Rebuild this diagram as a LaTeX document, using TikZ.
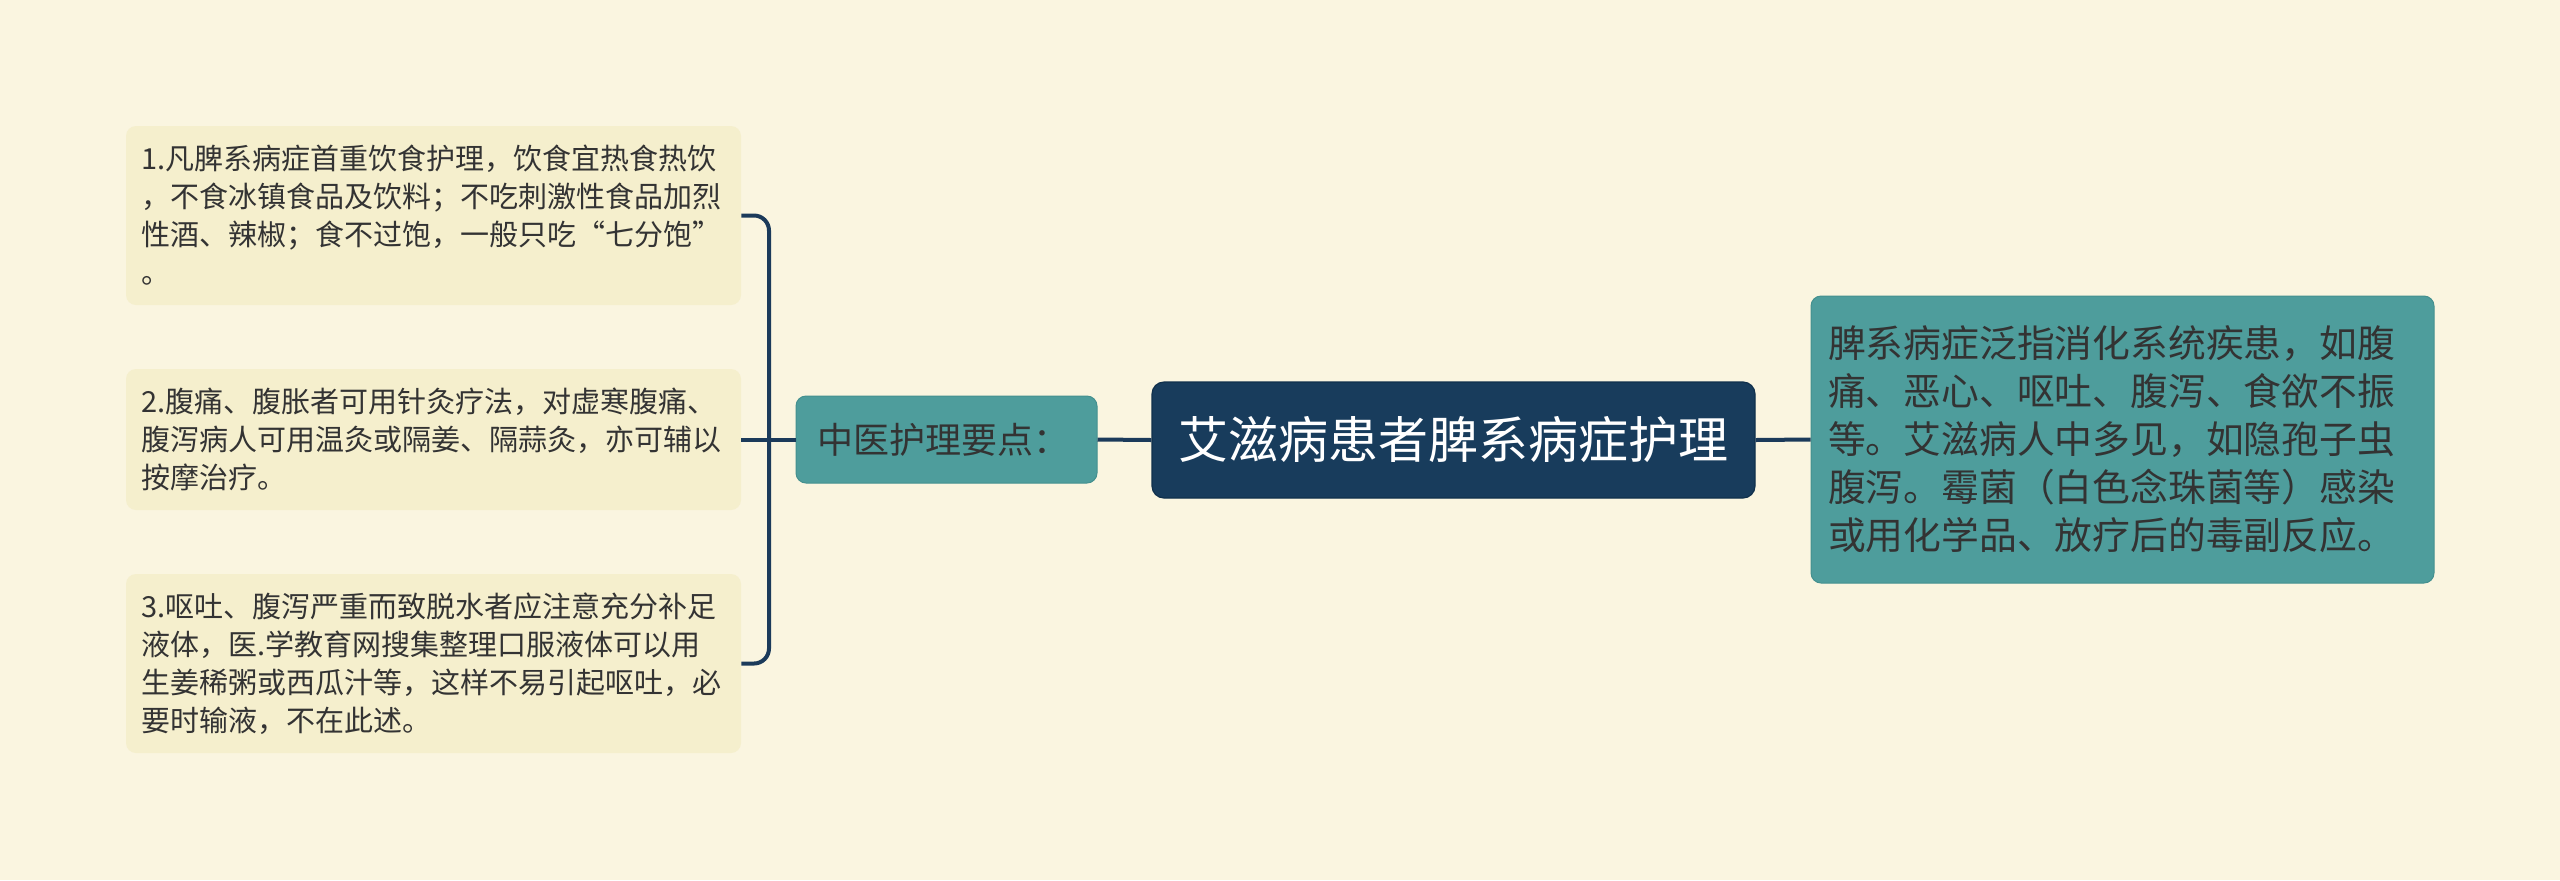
\documentclass[tikz,border=0pt]{standalone}
\usepackage{fontspec}
\setmainfont{Noto Sans CJK SC}
\definecolor{bgc}{HTML}{FAF5E0}
\definecolor{leafc}{HTML}{F5EFCD}
\definecolor{tealc}{HTML}{4E9D9C}
\definecolor{tealb}{HTML}{44908F}
\definecolor{navyc}{HTML}{183C5C}
\definecolor{navyb}{HTML}{10304C}
\definecolor{linec}{HTML}{1B3A5A}
\definecolor{txtc}{HTML}{333333}
\tikzset{
  leafbox/.style={fill=leafc, rounded corners=5pt, align=left, text width=292.5pt,
    inner xsep=7.5pt, inner ysep=0pt, minimum width=307.5pt, text=txtc,
    font=\fontsize{14.5}{19}\selectfont},
  midbox/.style={fill=tealc, draw=tealb, line width=0.5pt, rounded corners=5pt, align=left,
    text width=129.5pt, inner xsep=10.5pt, inner ysep=0pt, minimum width=150.5pt,
    minimum height=43.5pt, text=txtc, font=\fontsize{18}{22}\selectfont},
  rootbox/.style={fill=navyc, draw=navyb, line width=0.6pt, rounded corners=6pt, align=center,
    minimum width=301.5pt, minimum height=58pt, inner sep=0pt, text=white,
    font=\fontsize{25}{30}\selectfont},
  rightbox/.style={fill=tealc, draw=tealb, line width=0.5pt, rounded corners=5pt, align=left,
    text width=294.5pt, inner xsep=8.5pt, inner ysep=0pt, minimum width=311.5pt,
    minimum height=143.5pt, text=txtc, font=\fontsize{18.9}{24}\selectfont},
  conn/.style={draw=linec, line width=2pt}
}
\begin{document}
\begin{tikzpicture}[x=0.5pt,y=-0.5pt]
\fill[bgc] (0,0) rectangle (2560,880);
\useasboundingbox (0,0) rectangle (2560,880);

\node[leafbox, minimum height=89.5pt] (l1) at (433.5,215.5)
  {1.凡脾系病症首重饮食护理，饮食宜热食热饮\\，不食冰镇食品及饮料；不吃刺激性食品加烈\\性酒、辣椒；食不过饱，一般只吃“七分饱”\\。};
\node[leafbox, minimum height=70.5pt] (l2) at (433.5,439.5)
  {2.腹痛、腹胀者可用针灸疗法，对虚寒腹痛、\\腹泻病人可用温灸或隔姜、隔蒜灸，亦可辅以\\按摩治疗。};
\node[leafbox, minimum height=89.5pt] (l3) at (433.5,663.5)
  {3.呕吐、腹泻严重而致脱水者应注意充分补足\\液体，医.学教育网搜集整理口服液体可以用\\生姜稀粥或西瓜汁等，这样不易引起呕吐，必\\要时输液，不在此述。};

\node[midbox] (mid) at (946.5,439.5) {中医护理要点：};
\node[rootbox] (root) at (1453.5,440) {艾滋病患者脾系病症护理};
\node[rightbox] (rt) at (2122.5,439.5)
  {脾系病症泛指消化系统疾患，如腹\\痛、恶心、呕吐、腹泻、食欲不振\\等。艾滋病人中多见，如隐孢子虫\\腹泻。霉菌（白色念珠菌等）感染\\或用化学品、放疗后的毒副反应。};

\coordinate (bx) at (769,439.5);
\draw[conn] (root.west) -- (mid.east);
\draw[conn] (root.east) -- (rt.west);
\draw[conn] (mid.west) -- (l2.east);
\draw[conn, rounded corners=7.5pt] (l1.east) -| (bx) |- (l3.east);
\end{tikzpicture}
\end{document}
